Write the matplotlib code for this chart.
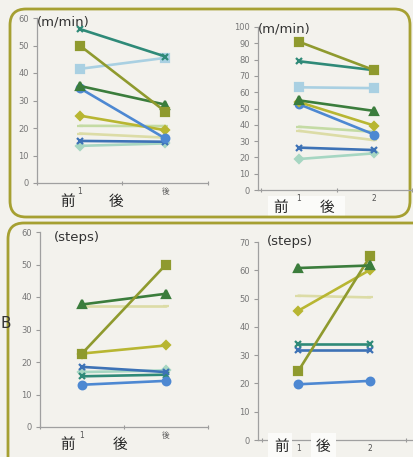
import matplotlib
matplotlib.use("Agg")
import matplotlib.pyplot as plt
from matplotlib.patches import FancyBboxPatch, Rectangle

plt.rcParams['font.family'] = ['DejaVu Sans', 'Noto Sans CJK JP']

W, H = 414, 457
BG = '#f3f2ed'

# line / marker style for each subject
STYLES = {
    'olive':      dict(color='#8f9a2e', marker='s', ms=5.5),
    'teal':       dict(color='#2f8a78', marker='x', ms=5),
    'lightblue':  dict(color='#a9d0e2', marker='s', ms=5.5),
    'darkgreen':  dict(color='#3b7d3c', marker='^', ms=5.5),
    'blue':       dict(color='#4d88d2', marker='o', ms=5.5),
    'yellow':     dict(color='#b8b632', marker='D', ms=4.5),
    'palegreen':  dict(color='#c4dba4', marker='_', ms=5),
    'palebeige':  dict(color='#dcdca6', marker='_', ms=5),
    'bluex':      dict(color='#3d72b6', marker='x', ms=5),
    'mint':       dict(color='#a6d6c2', marker='D', ms=4.5),
}

# walking speed (m/min), group A
speed_a_names = ['palebeige', 'palegreen', 'mint', 'bluex', 'yellow',
                 'blue', 'darkgreen', 'lightblue', 'olive', 'teal']
speed_a_pre = [18.0, 20.8, 13.5, 15.3, 24.5, 34.5, 35.3, 41.5, 50.0, 56.0]
speed_a_post = [16.5, 20.7, 14.4, 15.0, 19.2, 16.2, 28.5, 45.5, 26.0, 46.0]

# walking speed (m/min), group B
speed_b_names = ['palebeige', 'palegreen', 'mint', 'bluex', 'lightblue',
                 'blue', 'yellow', 'darkgreen', 'teal', 'olive']
speed_b_pre = [36.3, 38.8, 19.0, 26.0, 63.0, 52.7, 54.0, 55.0, 79.0, 91.0]
speed_b_post = [30.6, 35.7, 22.5, 24.5, 62.5, 34.0, 39.5, 48.5, 73.5, 73.5]

# step count, group A
steps_a_names = ['mint', 'palebeige', 'teal', 'bluex', 'blue',
                 'yellow', 'darkgreen', 'olive']
steps_a_pre = [16.9, 37.1, 15.6, 18.5, 13.0, 22.6, 37.7, 22.6]
steps_a_post = [17.4, 37.1, 16.1, 16.9, 14.2, 25.1, 41.0, 50.0]

# step count, group B
steps_b_names = ['palebeige', 'bluex', 'teal', 'blue', 'yellow',
                 'olive', 'darkgreen']
steps_b_pre = [51.0, 31.9, 33.9, 19.7, 45.7, 24.4, 60.8]
steps_b_post = [50.4, 31.9, 33.9, 20.9, 60.2, 65.0, 61.7]

fig = plt.figure(figsize=(W / 100, H / 100), dpi=100, facecolor=BG)


def px_axes(x0, x1, ytop, ybot):
    return fig.add_axes([x0 / W, 1 - ybot / H, (x1 - x0) / W, (ybot - ytop) / H])


def px_text(x, y, s, **kw):
    fig.text(x / W, 1 - y / H, s, **kw)


def px_box(x0, y0, x1, y1, **kw):
    p = FancyBboxPatch((x0 / 100, (H - y1) / 100), (x1 - x0) / 100, (y1 - y0) / 100,
                       transform=fig.dpi_scale_trans, **kw)
    fig.add_artist(p)


def px_patch(x0, y0, x1, y1, z):
    fig.add_artist(Rectangle((x0 / W, 1 - y1 / H), (x1 - x0) / W, (y1 - y0) / H,
                             transform=fig.transFigure, fc='#fbfbf9', ec='none',
                             zorder=z))


def panel(ax, names, pre, post, ymax, xlim, unit, unit_pos, xlabels):
    ax.set_facecolor('none')
    for n, a, b in zip(names, pre, post):
        st = STYLES[n]
        ax.plot([1, 2], [a, b], color=st['color'], lw=1.9, marker=st['marker'],
                ms=st['ms'], mew=1.6, mec=st['color'], mfc=st['color'],
                solid_capstyle='round', clip_on=False, zorder=3)
    ax.set_xlim(*xlim)
    ax.set_ylim(0, ymax)
    ax.set_yticks(range(0, ymax + 1, 10))
    ax.set_xticks([0.5, 1.5, 2.5])
    ax.set_xticklabels([])
    ax.set_xticks([1, 2], minor=True)
    ax.set_xticklabels(xlabels, minor=True, fontsize=5.5, color='#555555',
                       family=['DejaVu Sans', 'Noto Sans CJK JP'])
    ax.tick_params(axis='x', which='minor', length=0, pad=3)
    ax.tick_params(axis='x', which='major', length=3, direction='inout',
                   color='#9a9a9a', width=0.8)
    ax.tick_params(axis='y', length=3, direction='out', color='#9a9a9a',
                   width=0.8, labelsize=6, labelcolor='#777777', pad=3)
    for s in ('top', 'right'):
        ax.spines[s].set_visible(False)
    for s in ('left', 'bottom'):
        ax.spines[s].set_color('#a0a0a0')
        ax.spines[s].set_linewidth(0.9)
    ax.text(unit_pos[0], unit_pos[1], unit, transform=ax.transAxes, fontsize=9.5,
            color='#333333', va='center', ha='left')


# rounded frames of the two groups of charts
px_box(10, 9, 410, 217, boxstyle='round,pad=0,rounding_size=0.16',
       fc='none', ec='#a6a032', lw=2.0, zorder=0)
px_box(8, 223, 440, 500, boxstyle='round,pad=0,rounding_size=0.16',
       fc='none', ec='#a6a032', lw=2.0, zorder=0)

# light patches behind the before / after captions
px_patch(268, 196, 345, 216, -1)

ax1 = px_axes(37, 208, 18, 183)
panel(ax1, speed_a_names, speed_a_pre, speed_a_post, 60, (0.5, 2.48),
      '(m/min)', (0.0, 0.975), ['1', '後'])

ax2 = px_axes(258, 412, 27, 190)
panel(ax2, speed_b_names, speed_b_pre, speed_b_post, 100, (0.46, 2.49),
      '(m/min)', (0.0, 0.99), ['1', '2'])

ax3 = px_axes(40, 208, 232, 427)
panel(ax3, steps_a_names, steps_a_pre, steps_a_post, 60, (0.5, 2.48),
      '(steps)', (0.08, 0.97), ['1', '後'])

ax4 = px_axes(258, 412, 242, 440)
panel(ax4, steps_b_names, steps_b_pre, steps_b_post, 70, (0.44, 2.58),
      '(steps)', (0.06, 1.0), ['1', '2'])

# before / after captions
jp = dict(fontsize=10.5, color='#222222', ha='center', va='center',
          family=['Noto Sans CJK JP', 'DejaVu Sans'])
px_text(68, 202, '前', **jp)
px_text(116, 202, '後', **jp)

px_text(281, 208, '前', zorder=5, **jp)
px_text(327, 208, '後', zorder=5, **jp)

px_text(68, 445, '前', **jp)
px_text(120, 445, '後', **jp)

px_patch(268, 433, 292, 457, 4)
px_patch(311, 433, 336, 457, 4)
px_text(282, 447, '前', zorder=5, **jp)
px_text(323, 447, '後', zorder=5, **jp)

px_text(0, 323, 'B', fontsize=11, color='#333333', ha='left', va='center')

fig.savefig('out.png', dpi=100, facecolor=BG)
